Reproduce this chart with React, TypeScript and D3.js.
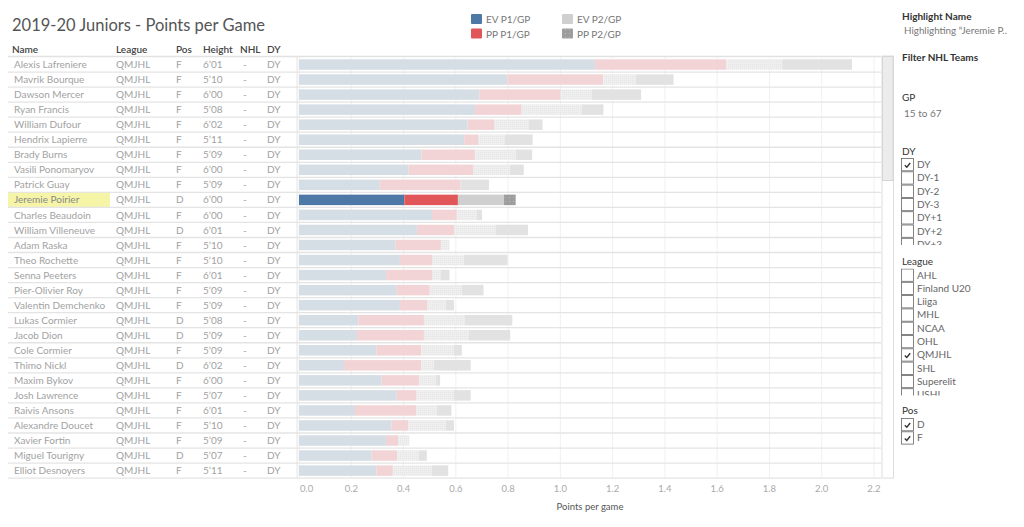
import * as d3 from "d3";

const names = [
  "Alexis Lafreniere", "Mavrik Bourque", "Dawson Mercer", "Ryan Francis", "William Dufour",
  "Hendrix Lapierre", "Brady Burns", "Vasili Ponomaryov", "Patrick Guay", "Jeremie Poirier",
  "Charles Beaudoin", "William Villeneuve", "Adam Raska", "Theo Rochette", "Senna Peeters",
  "Pier-Olivier Roy", "Valentin Demchenko", "Lukas Cormier", "Jacob Dion", "Cole Cormier",
  "Thimo Nickl", "Maxim Bykov", "Josh Lawrence", "Raivis Ansons", "Alexandre Doucet",
  "Xavier Fortin", "Miguel Tourigny", "Elliot Desnoyers",
];
const positions = ["F","F","F","F","F","F","F","F","F","D","F","D","F","F","F","F","F","D","D","F","D","F","F","F","F","F","D","F"];
const heights = [
  "6’01", "5’10", "6’00", "5’08", "6’02", "5’11", "5’09", "6’00", "5’09", "6’00",
  "6’00", "6’01", "5’10", "5’10", "6’01", "5’09", "5’09", "5’08", "5’09", "5’09",
  "6’02", "6’00", "5’07", "6’01", "5’10", "5’09", "5’07", "5’11",
];
const evP1 = [1.132,0.798,0.690,0.673,0.645,0.632,0.468,0.419,0.309,0.403,0.509,0.451,0.370,0.386,0.333,0.374,0.386,0.227,0.222,0.296,0.172,0.316,0.374,0.214,0.354,0.333,0.278,0.296];
const ppP1 = [0.503,0.366,0.311,0.179,0.101,0.053,0.205,0.249,0.309,0.205,0.095,0.142,0.173,0.123,0.176,0.126,0.106,0.251,0.256,0.172,0.295,0.143,0.076,0.235,0.065,0.046,0.097,0.063];
const evP2 = [0.214,0.125,0.119,0.230,0.132,0.103,0.156,0.139,0,0.176,0.077,0.159,0.033,0.122,0.034,0.123,0.069,0.156,0.172,0.124,0.049,0.064,0.142,0.078,0.142,0.043,0.084,0.150];
const ppP2 = [0.267,0.144,0.189,0.083,0.054,0.106,0.063,0.053,0.109,0.045,0.019,0.124,0,0.167,0.033,0.083,0.032,0.182,0.158,0.031,0.141,0.017,0.065,0.056,0.032,0,0.030,0.062];
const seriesKeys = ["EV P1/GP", "PP P1/GP", "EV P2/GP", "PP P2/GP"];
const xTicks = [0, 0.2, 0.4, 0.6, 0.8, 1.0, 1.2, 1.4, 1.6, 1.8, 2.0, 2.2];
const highlighted = "Jeremie Poirier";

const dyItems = ["DY", "DY-1", "DY-2", "DY-3", "DY+1", "DY+2", "DY+3"];
const dyChecked = ["DY"];
const leagueItems = ["AHL", "Finland U20", "Liiga", "MHL", "NCAA", "OHL", "QMJHL", "SHL", "Superelit", "USHL"];
const leagueChecked = ["QMJHL"];
const posItems = ["D", "F"];
const posChecked = ["D", "F"];

const FONT = "Lato, 'Noto Sans', sans-serif";
const fullColors = ["#4e79a7", "#e15759", "#cfcfcf", "#9d9d9d"];
const fadeColors = ["#d5dde5", "#f3d4d6", "url(#hatch)", "#e2e2e2"];

const rows = names.map((name, i) => ({
  name,
  "EV P1/GP": evP1[i],
  "PP P1/GP": ppP1[i],
  "EV P2/GP": evP2[i],
  "PP P2/GP": ppP2[i],
}));

function CheckList({ y, items, checked, clipH, id }: { y: number; items: string[]; checked: string[]; clipH: number; id: string }) {
  const step = 13.3;
  return (
    <g>
      <defs>
        <clipPath id={id}>
          <rect x={895} y={y} width={129} height={clipH} />
        </clipPath>
      </defs>
      <g clipPath={`url(#${id})`}>
        {items.map((it, i) => {
          const yy = y + i * step;
          const on = checked.includes(it);
          return (
            <g key={it}>
              <rect x={901.5} y={yy + 0.5} width={12} height={12.3} fill="#fff" stroke="#666" strokeWidth={0.8} />
              {on && <path d={`M904.8,${yy + 7.2} L906.8,${yy + 9.2} L910.2,${yy + 5}`} fill="none" stroke="#333" strokeWidth={1.4} />}
              <text x={917} y={yy + 10} fontSize={10} fill="#666">{it}</text>
            </g>
          );
        })}
      </g>
    </g>
  );
}

export default function App() {
  const x = d3.scaleLinear().domain([0, 2.2]).range([299, 874]);
  const yBand = d3.scaleBand<string>().domain(names).range([57, 57 + names.length * 15.04]).paddingInner(0).paddingOuter(0);
  const stack = d3.stack<any>().keys(seriesKeys);
  const series = stack(rows);
  const bw = yBand.bandwidth();
  const barH = 10.5;
  const tableBottom = 57 + names.length * 15.04;

  const cols = [
    { label: "Name", x: 12 },
    { label: "League", x: 116 },
    { label: "Pos", x: 176 },
    { label: "Height", x: 203 },
    { label: "NHL", x: 240 },
    { label: "DY", x: 267 },
  ];

  return (
    <svg width={1024} height={527} style={{ position: "absolute", left: 0, top: 0, fontFamily: FONT, background: "#fff" }}>
      <defs>
        <pattern id="hatch" width={2} height={2} patternUnits="userSpaceOnUse">
          <rect width={2} height={2} fill="#efefef" />
          <rect width={1} height={1} fill="#e5e5e5" />
        </pattern>
        <pattern id="dots" width={4} height={4} patternUnits="userSpaceOnUse">
          <rect width={4} height={4} fill="#9d9d9d" />
          <rect x={1} y={1} width={1} height={1} fill="#bdbdbd" />
        </pattern>
      </defs>

      <text x={12} y={31} fontSize={16.5} fill="#555">2019-20 Juniors - Points per Game</text>

      {/* legend */}
      {seriesKeys.map((k, i) => {
        const lx = i < 2 ? 471 : 562;
        const ly = i % 2 === 0 ? 14 : 28.5;
        const fill = i === 3 ? "url(#dots)" : fullColors[i];
        return (
          <g key={k}>
            <rect x={lx} y={ly} width={11} height={10} fill={fill} rx={1} />
            <text x={lx + 15} y={ly + 9} fontSize={10} fill="#777">{k}</text>
          </g>
        );
      })}

      {/* header */}
      {cols.map((c) => (
        <text key={c.label} x={c.x} y={53} fontSize={10} fill="#444" fontWeight={600}>{c.label}</text>
      ))}
      <line x1={8} x2={881} y1={56.5} y2={56.5} stroke="#e2e2e2" strokeWidth={1.5} />

      {/* grid */}
      {xTicks.map((t) => (
        <line key={t} x1={x(t)} x2={x(t)} y1={57} y2={tableBottom} stroke="#f0f0f0" strokeWidth={1} />
      ))}

      {/* rows */}
      {names.map((n, i) => {
        const y0 = yBand(n)!;
        const hi = n === highlighted;
        const tc = "#a2a2a2";
        const ty = y0 + bw / 2 + 3.6;
        return (
          <g key={n}>
            {hi && <rect x={8} y={y0 + 0.5} width={102} height={bw - 1} fill="#f6f4a6" />}
            <text x={14} y={ty} fontSize={10} fill={hi ? "#8a8a8a" : tc}>{n}</text>
            <text x={116} y={ty} fontSize={10} fill={tc}>QMJHL</text>
            <text x={176} y={ty} fontSize={10} fill={tc}>{positions[i]}</text>
            <text x={203} y={ty} fontSize={10} fill={tc}>{heights[i]}</text>
            <text x={243} y={ty} fontSize={10} fill={tc}>-</text>
            <text x={267} y={ty} fontSize={10} fill={tc}>DY</text>
            <line x1={8} x2={881} y1={y0 + bw} y2={y0 + bw} stroke="#e4e4e4" strokeWidth={1.3} />
          </g>
        );
      })}
      <line x1={297} x2={297} y1={57} y2={tableBottom} stroke="#e4e4e4" strokeWidth={1} />

      {/* bars */}
      {series.map((s, si) => (
        <g key={s.key}>
          {s.map((d, i) => {
            const n = names[i];
            const hi = n === highlighted;
            const w = x(d[1]) - x(d[0]);
            if (w <= 0) return null;
            let fill = hi ? fullColors[si] : fadeColors[si];
            if (hi && si === 3) fill = "url(#dots)";
            return (
              <rect key={n} x={x(d[0])} y={yBand(n)! + (bw - barH) / 2} width={w} height={barH} fill={fill} />
            );
          })}
        </g>
      ))}

      {/* scrollbar */}
      <rect x={882} y={56} width={11.5} height={tableBottom - 56} fill="#fff" stroke="#ddd" strokeWidth={1} />
      <rect x={882.5} y={56.5} width={10.5} height={124} fill="#ececec" stroke="#d6d6d6" strokeWidth={1} />

      {/* x axis */}
      {xTicks.map((t, i) => (
        <text key={t} x={i === 0 ? x(t) + 1 : x(t)} y={492} fontSize={9.5} fill="#aaa" textAnchor={i === 0 ? "start" : "middle"}>
          {d3.format(".1f")(t)}
        </text>
      ))}
      <text x={590} y={510} fontSize={9.5} fill="#555" textAnchor="middle">Points per game</text>

      {/* right panel */}
      <text x={902} y={20} fontSize={10} fill="#333" fontWeight={700}>Highlight Name</text>
      <text x={904} y={34} fontSize={10} fill="#777" textLength={103} lengthAdjust="spacingAndGlyphs">Highlighting “Jeremie P..</text>
      <text x={902} y={61} fontSize={10} fill="#333" fontWeight={700}>Filter NHL Teams</text>
      <text x={902} y={101} fontSize={10} fill="#333">GP</text>
      <text x={904} y={117} fontSize={10} fill="#777">15 to 67</text>
      <text x={902} y={155} fontSize={10} fill="#333">DY</text>
      <CheckList y={158} items={dyItems} checked={dyChecked} clipH={87} id="clipDY" />
      <text x={902} y={265} fontSize={10} fill="#333">League</text>
      <CheckList y={268.5} items={leagueItems} checked={leagueChecked} clipH={127} id="clipLg" />
      <text x={902} y={414} fontSize={10} fill="#333">Pos</text>
      <CheckList y={418} items={posItems} checked={posChecked} clipH={30} id="clipPos" />
    </svg>
  );
}
